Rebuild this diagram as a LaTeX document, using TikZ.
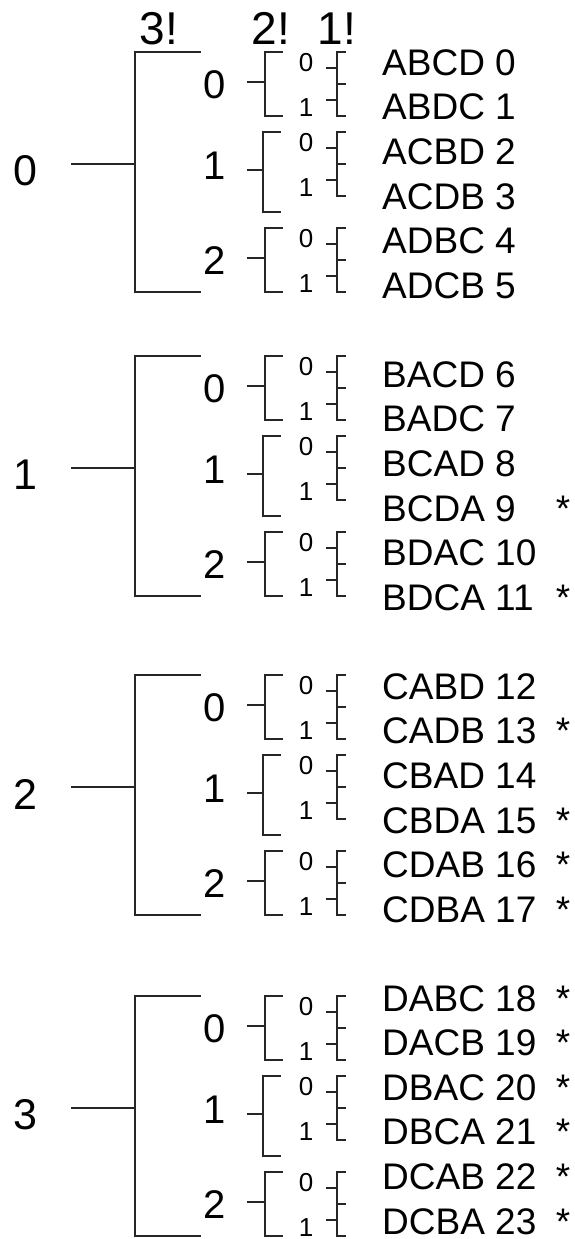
\documentclass[tikz,border=0pt]{standalone}
\usepackage{fontspec}
\setmainfont{Liberation Sans}
\tikzset{
  ln/.style={line width=2pt, draw=black!85, line cap=rect},
  hdr/.style={font=\fontsize{46}{50}\selectfont, anchor=base, inner sep=0pt},
  biglbl/.style={font=\fontsize{43}{46}\selectfont, inner sep=0pt},
  midlbl/.style={font=\fontsize{40}{44}\selectfont, inner sep=0pt},
  smlbl/.style={font=\fontsize{26}{28}\selectfont, inner sep=0pt},
  perm/.style={font=\fontsize{37}{40}\selectfont, anchor=base west, inner sep=0pt},
  starlbl/.style={font=\fontsize{37}{40}\selectfont, anchor=base, inner sep=0pt},
}
\begin{document}
\begin{tikzpicture}[x=1pt,y=-1pt]
\fill[white] (0,0) rectangle (575,1239);
\useasboundingbox (0,0) rectangle (575,1239);
% headers
\node[hdr] (h3) at (159,45) {3!};
\node[hdr] (h2) at (271,45) {2!};
\node[hdr] (h1) at (337,45) {1!};
% groups
\foreach \g/\T in {0/52,1/356,2/675,3/996} {
  \node[biglbl] (g\g) at (25,\T+119) {\g};
  \coordinate (gs\g) at (72,\T+111.5);
  \coordinate (gb\g) at (135,\T+111.5);
  \coordinate (gt\g) at (135,\T);
  \coordinate (gd\g) at (135,\T+240);
  \coordinate (gte\g) at (200,\T);
  \coordinate (gde\g) at (200,\T+240);
  \draw[ln] (gs\g) -- (gb\g);
  \draw[ln] (gte\g) -- (gt\g) -- (gd\g) -- (gde\g);
  \foreach \s/\S/\h/\vx/\ml/\st in {0/0/64/265/33/29.5, 1/80/80/263/114/38, 2/176/64/265/209/30} {
    \node[midlbl] (m\g\s) at (215,\T+\ml) {\s};
    % 2! bracket
    \coordinate (bs\g\s) at (248,\T+\S+\st);
    \coordinate (bm\g\s) at (\vx,\T+\S+\st);
    \coordinate (bt\g\s) at (\vx,\T+\S);
    \coordinate (bd\g\s) at (\vx,\T+\S+\h);
    \coordinate (bte\g\s) at (\vx+17,\T+\S);
    \coordinate (bde\g\s) at (\vx+17,\T+\S+\h);
    \draw[ln] (bs\g\s) -- (bm\g\s);
    \draw[ln] (bte\g\s) -- (bt\g\s) -- (bd\g\s) -- (bde\g\s);
    % small labels
    \node[smlbl] (z\g\s) at (306,\T+\S+11) {0};
    \node[smlbl] (o\g\s) at (306,\T+\S+55.5) {1};
    % 1! brackets
    \coordinate (ct\g\s) at (337,\T+\S);
    \coordinate (cm\g\s) at (337,\T+\S+31.5);
    \coordinate (cd\g\s) at (337,\T+\S+63.5);
    \coordinate (cte\g\s) at (345,\T+\S);
    \coordinate (cme\g\s) at (345,\T+\S+31.5);
    \coordinate (cde\g\s) at (345,\T+\S+63.5);
    \coordinate (ca\g\s) at (327,\T+\S+16);
    \coordinate (cae\g\s) at (337,\T+\S+16);
    \coordinate (cb\g\s) at (327,\T+\S+48);
    \coordinate (cbe\g\s) at (337,\T+\S+48);
    \draw[ln] (cte\g\s) -- (ct\g\s) -- (cd\g\s) -- (cde\g\s);
    \draw[ln] (cm\g\s) -- (cme\g\s);
    \draw[ln] (ca\g\s) -- (cae\g\s);
    \draw[ln] (cb\g\s) -- (cbe\g\s);
  }
}
% permutations
\foreach \p/\a [count=\n from 0] in {ABCD 0/0, ABDC 1/0, ACBD 2/0, ACDB 3/0, ADBC 4/0, ADCB 5/0,
  BACD 6/0, BADC 7/0, BCAD 8/0, BCDA 9/1, BDAC 10/0, BDCA 11/1,
  CABD 12/0, CADB 13/1, CBAD 14/0, CBDA 15/1, CDAB 16/1, CDBA 17/1,
  DABC 18/1, DACB 19/1, DBAC 20/1, DBCA 21/1, DCAB 22/1, DCBA 23/1} {
  \pgfmathtruncatemacro\gg{\n/6}
  \pgfmathtruncatemacro\ii{\n-6*\gg}
  \pgfmathsetmacro\yy{62+44.57*(7*\gg+\ii)+13.3}
  \node[perm] (p\n) at (382,\yy) {\p};
  \ifnum\a=1 \node[starlbl] (s\n) at (563,\yy) {*};\fi
}
\end{tikzpicture}
\end{document}
